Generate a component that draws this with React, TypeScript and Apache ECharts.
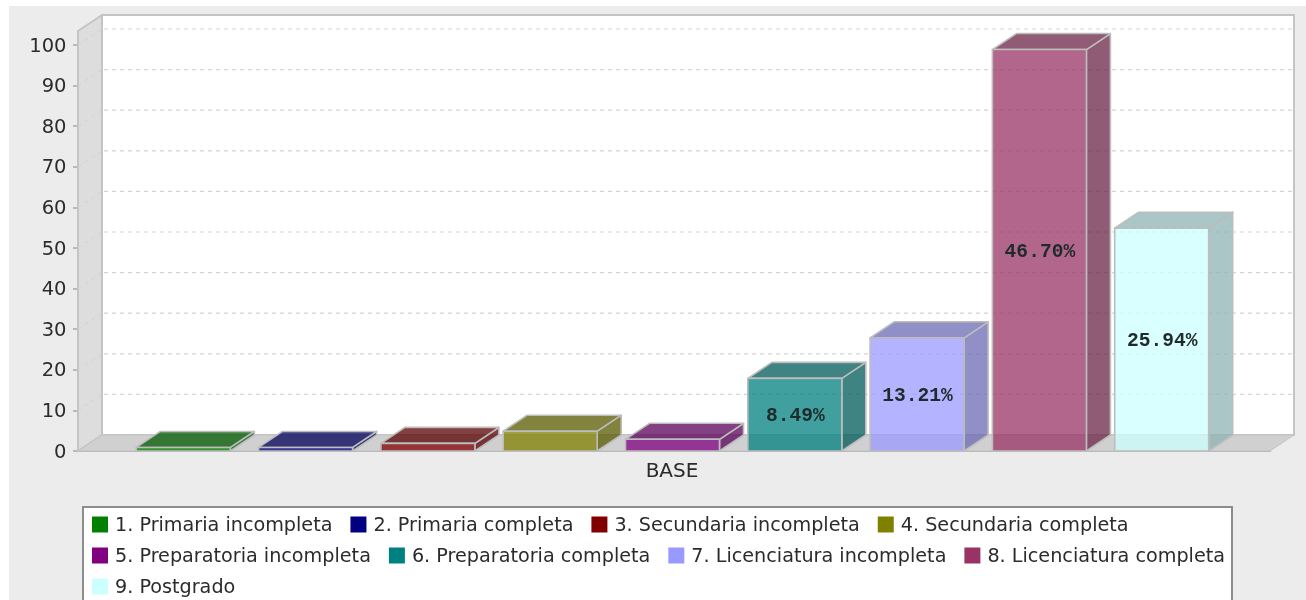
import React, { useEffect, useRef } from "react";
import * as echarts from "echarts";

const CATEGORIES = ["BASE"];
const SERIES_NAMES = [
  "1. Primaria incompleta",
  "2. Primaria completa",
  "3. Secundaria incompleta",
  "4. Secundaria completa",
  "5. Preparatoria incompleta",
  "6. Preparatoria completa",
  "7. Licenciatura incompleta",
  "8. Licenciatura completa",
  "9. Postgrado",
];
const SERIES_VALUES = [1, 1, 2, 5, 3, 18, 28, 99, 55];
const BAR_LABELS = ["", "", "", "", "", "8.49%", "13.21%", "46.70%", "25.94%"];
const COLORS = ["#008000", "#000080", "#800000", "#808000", "#800080", "#008080", "#9999ff", "#993366", "#ccffff"];
const Y_TICKS = [0, 10, 20, 30, 40, 50, 60, 70, 80, 90, 100];

const DX = 24;
const DY = -16;
const BAR_STEP = 122.3;
const BAR_W = 94;
const CENTER_SHIFT = -1.5;
const EDGE = "#bdbdbd";
const FONT = '"DejaVu Sans"';

const rgba = (hex: string, f: number, a: number) => {
  const n = parseInt(hex.slice(1), 16);
  const r = Math.round(((n >> 16) & 255) * f);
  const g = Math.round(((n >> 8) & 255) * f);
  const b = Math.round((n & 255) * f);
  return `rgba(${r},${g},${b},${a})`;
};

const renderWalls = (_p: any, api: any) => {
  const band = api.size([1, 0])[0];
  const [cx, y0] = api.coord([0, 0]);
  const l = cx - band / 2;
  const r = cx + band / 2;
  const yTop = api.coord([0, 103.45])[1];
  const line = { stroke: "#c4c4c4", lineWidth: 2 };
  const children: any[] = [
    { type: "polygon", shape: { points: [[l + DX, yTop + DY], [r + DX, yTop + DY], [r + DX, y0 + DY], [l + DX, y0 + DY]] }, style: { fill: "#ffffff", ...line } },
    { type: "polygon", shape: { points: [[l, yTop], [l + DX, yTop + DY], [l + DX, y0 + DY], [l, y0]] }, style: { fill: "#dddddd", ...line } },
    { type: "polygon", shape: { points: [[l, y0], [l + DX, y0 + DY], [r + DX, y0 + DY], [r, y0]] }, style: { fill: "#d0d0d0", stroke: "#c4c4c4", lineWidth: 1 } },
  ];
  Y_TICKS.slice(1).forEach((t) => {
    const y = api.coord([0, t])[1];
    children.push({ type: "line", shape: { x1: l, y1: y, x2: l + DX, y2: y + DY }, style: { stroke: "#d2d2d2", lineWidth: 1, lineDash: [4, 4] } });
    children.push({ type: "line", shape: { x1: l + DX + 2, y1: y + DY, x2: r + DX - 2, y2: y + DY }, style: { stroke: "#d4d4d4", lineWidth: 1.2, lineDash: [4, 4] } });
  });
  return { type: "group", children };
};

const makeBar = (i: number) => (_p: any, api: any) => {
  const [cx, y0] = api.coord([0, 0]);
  const y = api.coord([0, api.value(1)])[1] + 0.5;
  const x = cx + CENTER_SHIFT + (i - 4) * BAR_STEP - BAR_W / 2;
  const w = BAR_W;
  const edge = { stroke: EDGE, lineWidth: 1.6, lineJoin: "round" };
  const children: any[] = [
    { type: "polygon", shape: { points: [[x + w, y], [x + w + DX, y + DY], [x + w + DX, y0 + DY], [x + w, y0]] }, style: { fill: rgba(COLORS[i], 0.7, 0.75), ...edge } },
    { type: "polygon", shape: { points: [[x, y], [x + DX, y + DY], [x + w + DX, y + DY], [x + w, y]] }, style: { fill: rgba(COLORS[i], 0.7, 0.75), ...edge } },
    { type: "rect", shape: { x, y, width: w, height: y0 - y }, style: { fill: rgba(COLORS[i], 1, 0.75), ...edge } },
  ];
  if (BAR_LABELS[i]) {
    children.push({
      type: "text",
      style: {
        text: BAR_LABELS[i],
        x: x + w / 2 + 0.5,
        y: (y + y0) / 2 + 1.5,
        align: "center",
        verticalAlign: "middle",
        fill: "#1f2a2a",
        font: 'bold 19.6px "Liberation Mono"',
      },
    });
  }
  return { type: "group", children };
};

const legendRow = (names: string[], top: number) => ({
  show: true,
  data: names,
  left: 92,
  top,
  orient: "horizontal" as const,
  padding: 0,
  itemGap: 18,
  itemWidth: 16,
  itemHeight: 16,
  icon: "rect",
  selectedMode: false,
  textStyle: { fontFamily: FONT, fontSize: 19.2, color: "#2b2b2b", padding: [0, 0, 0, 2] },
});

export default function App() {
  const ref = useRef<HTMLDivElement>(null);

  useEffect(() => {
    if (!ref.current) return;
    const chart = echarts.init(ref.current, undefined, { renderer: "svg" });
    chart.setOption({
      animation: false,
      backgroundColor: "#ffffff",
      graphic: [
        { type: "rect", z: -10, silent: true, shape: { x: 9, y: 6, width: 1300, height: 600 }, style: { fill: "#ececec" } },
        { type: "rect", z: 1, silent: true, shape: { x: 83, y: 507, width: 1149, height: 130 }, style: { fill: "#ffffff", stroke: "#8c8c8c", lineWidth: 2 } },
      ],
      grid: { left: 78, top: 31, width: 1192, height: 420 },
      xAxis: {
        type: "category",
        data: CATEGORIES,
        axisLine: { show: true, lineStyle: { color: "#b0b0b0", width: 2 } },
        axisTick: { show: false },
        axisLabel: { fontFamily: FONT, fontSize: 20, color: "#2b2b2b", margin: 9, padding: [0, 4, 0, 0] },
      },
      yAxis: {
        type: "value",
        min: 0,
        max: 103.45,
        axisLine: { show: false },
        axisTick: { show: true, length: 5, lineStyle: { color: "#a8a8a8", width: 1.5 }, customValues: Y_TICKS },
        axisLabel: { fontFamily: FONT, fontSize: 19.5, color: "#2b2b2b", margin: 11.5, padding: [2, 0, 0, 0], customValues: Y_TICKS },
        splitLine: { show: false },
      },
      legend: [
        legendRow(SERIES_NAMES.slice(0, 4), 515),
        legendRow(SERIES_NAMES.slice(4, 8), 546),
        legendRow(SERIES_NAMES.slice(8), 577),
      ],
      series: [
        { type: "custom", name: "walls", silent: true, renderItem: renderWalls, data: [[0, 0]], encode: { x: 0, y: 1 } },
        ...SERIES_NAMES.map((name, i) => ({
          type: "custom",
          name,
          silent: true,
          renderItem: makeBar(i),
          itemStyle: { color: COLORS[i] },
          data: [[0, SERIES_VALUES[i]]],
          encode: { x: 0, y: 1 },
        })),
      ],
    });
    return () => chart.dispose();
  }, []);

  return (
    <div style={{ position: "absolute", left: 0, top: 0, width: 1306, height: 600, overflow: "hidden" }}>
      <div ref={ref} style={{ width: 1306, height: 600, filter: "blur(0.4px)" }} />
    </div>
  );
}
